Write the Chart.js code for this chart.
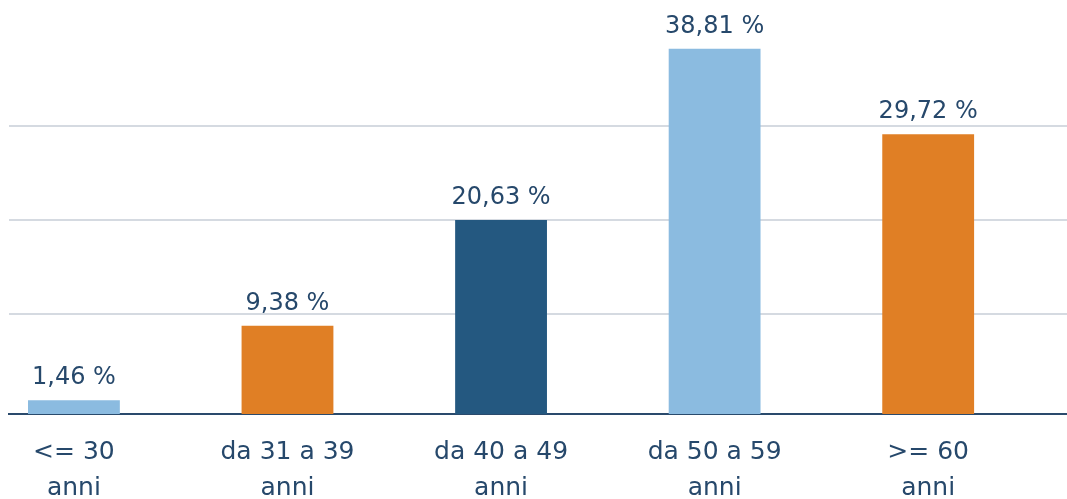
<!DOCTYPE html>
<html>
<head>
<meta charset="utf-8">
<script src="https://cdn.jsdelivr.net/npm/chart.js@4"></script>
<style>
  html, body { margin: 0; padding: 0; background: #fff; }
  #wrap { width: 1067px; height: 499px; }
</style>
</head>
<body>
<div id="wrap"><canvas id="ageChart"></canvas></div>
<script>
// data
const categories = [['<= 30', 'anni'], ['da 31 a 39', 'anni'], ['da 40 a 49', 'anni'], ['da 50 a 59', 'anni'], ['>= 60', 'anni']];
const values = [1.46, 9.38, 20.63, 38.81, 29.72];
const valueLabels = ['1,46 %', '9,38 %', '20,63 %', '38,81 %', '29,72 %'];
const gridValues = [10.64, 20.64, 30.64];   // gridlines sit a bit off the round numbers

const barColors = ['#8BBBE0', '#E07F25', '#245880', '#8BBBE0', '#E07F25'];
const textColor = '#26486B';
const fontFamily = '"DejaVu Sans", sans-serif';

// values above the bars
const valueLabelPlugin = {
    id: 'valueLabels',
    afterDatasetsDraw(chart) {
        const c = chart.ctx;
        const meta = chart.getDatasetMeta(0);
        c.save();
        c.font = '24px ' + fontFamily;
        c.fillStyle = textColor;
        c.textAlign = 'center';
        c.textBaseline = 'alphabetic';
        meta.data.forEach((bar, i) => {
            c.fillText(valueLabels[i], bar.x, bar.y - 16);
        });
        c.restore();
    }
};

const ctx = document.getElementById('ageChart').getContext('2d');

new Chart(ctx, {
    type: 'bar',
    data: {
        datasets: [{
            data: values.map((v, i) => ({ x: i, y: v })),
            backgroundColor: barColors,
            borderWidth: 0,
            categoryPercentage: 1,
            barPercentage: 0.43
        }]
    },
    options: {
        responsive: true,
        maintainAspectRatio: false,
        animation: false,
        layout: { padding: { left: 9, right: 0, top: 0, bottom: 0 } },
        plugins: {
            legend: { display: false },
            tooltip: { enabled: false }
        },
        scales: {
            x: {
                type: 'linear',
                offset: false,
                min: -0.304,
                max: 4.65,
                grid: { display: false, drawTicks: false },
                border: { display: true, color: '#2A4A6C', width: 2 },
                afterBuildTicks: axis => { axis.ticks = categories.map((c, i) => ({ value: i })); },
                afterFit: axis => { axis.height = 85; },
                ticks: {
                    autoSkip: false,
                    maxRotation: 0,
                    padding: 20,
                    color: textColor,
                    font: { family: fontFamily, size: 25, lineHeight: 1.44 },
                    callback: v => categories[v] || ''
                }
            },
            y: {
                min: 0,
                max: 44,
                grid: { color: '#D5DAE1', lineWidth: 2, drawTicks: false },
                border: { display: false },
                afterBuildTicks: axis => { axis.ticks = gridValues.map(v => ({ value: v })); },
                ticks: { display: false }
            }
        }
    },
    plugins: [valueLabelPlugin]
});
</script>
</body>
</html>
